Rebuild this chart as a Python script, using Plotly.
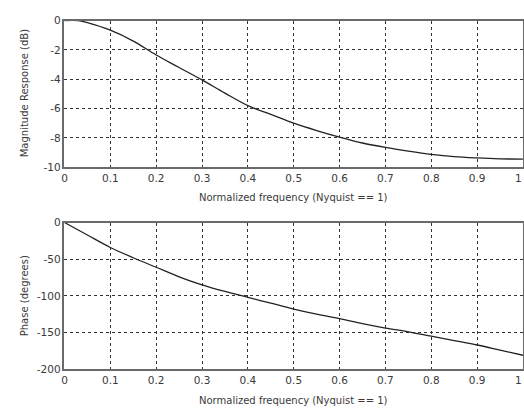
import plotly.graph_objects as go

freq = [0.0, 0.03, 0.05, 0.1, 0.15, 0.2, 0.25, 0.3, 0.35, 0.4, 0.45, 0.5, 0.55, 0.6,
        0.65, 0.7, 0.75, 0.8, 0.85, 0.9, 0.95, 1.0]
magnitude_db = [0.0, 0.0, -0.15, -0.66, -1.4, -2.35, -3.2, -4.05, -4.95, -5.8, -6.4, -7.0,
                -7.5, -7.95, -8.35, -8.65, -8.9, -9.12, -9.28, -9.37, -9.43, -9.45]
phase_freq = [0.0, 0.05, 0.1, 0.15, 0.2, 0.25, 0.3, 0.35, 0.4, 0.45, 0.5, 0.55, 0.6,
              0.65, 0.7, 0.75, 0.8, 0.85, 0.9, 0.95, 1.0]
phase_deg = [0.0, -17, -34, -48, -61, -74, -85, -94, -102, -110, -118, -125, -131,
             -138, -144, -149, -155, -161, -167, -174, -181]

x_ticks = [0, 0.1, 0.2, 0.3, 0.4, 0.5, 0.6, 0.7, 0.8, 0.9]
x_tick_text = ["0", "0.1", "0.2", "0.3", "0.4", "0.5", "0.6", "0.7", "0.8", "0.9"]
x_last_tick = 1
x_last_text = "1"
mag_ticks = [0, -2, -4, -6, -8, -10]
mag_tick_text = ["0", "-2", "-4", "-6", "-8", "-10"]
phase_ticks = [0, -50, -100, -150, -200]
phase_tick_text = ["0", "-50", "-100", "-150", "-200"]

FONT = "DejaVu Sans"
TXT = "#3a3a3a"

fig = go.Figure()
fig.add_trace(go.Scatter(x=freq, y=magnitude_db, mode="lines",
                         line=dict(color="#222222", width=1.3, shape="spline"),
                         xaxis="x", yaxis="y", showlegend=False))
fig.add_trace(go.Scatter(x=phase_freq, y=phase_deg, mode="lines",
                         line=dict(color="#222222", width=1.3, shape="spline"),
                         xaxis="x2", yaxis="y2", showlegend=False))

tick_font = dict(family=FONT, size=10.5, color=TXT)
axis_common = dict(showline=True, mirror=True, linecolor="#6a6a6a", linewidth=1.5,
                   showgrid=True, gridcolor="#333333", gridwidth=1, griddash="3px,3px",
                   zeroline=False, ticks="", tickfont=tick_font)

fig.update_layout(
    width=524, height=416,
    margin=dict(l=0, r=0, t=0, b=0),
    paper_bgcolor="white", plot_bgcolor="white",
    xaxis=dict(domain=[0.118, 0.998], anchor="y", range=[0, 1], tickvals=x_ticks,
               ticktext=x_tick_text, **axis_common),
    yaxis=dict(domain=[0.601, 0.964], anchor="x", range=[-10, 0], tickvals=mag_ticks,
               ticktext=mag_tick_text, **axis_common),
    xaxis2=dict(domain=[0.118, 0.998], anchor="y2", range=[0, 1], tickvals=x_ticks,
                ticktext=x_tick_text, **axis_common),
    yaxis2=dict(domain=[0.101, 0.464], anchor="x2", range=[-200, 0], tickvals=phase_ticks,
                ticktext=phase_tick_text, **axis_common),
)

# right-most "1" tick labels, kept just inside the page edge
for xa, ya in (("x", "y"), ("x2", "y2")):
    fig.add_annotation(text=x_last_text, x=x_last_tick, y=0, xref=xa, yref=f"{ya} domain",
                       showarrow=False, font=tick_font, xanchor="right", yanchor="top",
                       xshift=1, yshift=-3)

title_font = dict(family=FONT, size=10, color=TXT)
fig.add_annotation(text="Normalized frequency (Nyquist == 1)", x=0.557, y=1 - 197 / 416,
                   xref="paper", yref="paper", showarrow=False, font=title_font,
                   xanchor="center", yanchor="middle")
fig.add_annotation(text="Normalized frequency (Nyquist == 1)", x=0.557, y=1 - 406 / 416,
                   xref="paper", yref="paper", showarrow=False, font=title_font,
                   xanchor="center", yanchor="middle")
fig.add_annotation(text="Magnitude Response (dB)", x=22 / 524, y=1 - 90 / 416,
                   xref="paper", yref="paper", showarrow=False, font=title_font,
                   textangle=-90, xanchor="center", yanchor="middle")
fig.add_annotation(text="Phase (degrees)", x=22 / 524, y=1 - 298 / 416,
                   xref="paper", yref="paper", showarrow=False, font=title_font,
                   textangle=-90, xanchor="center", yanchor="middle")

fig.write_html("out.html")
